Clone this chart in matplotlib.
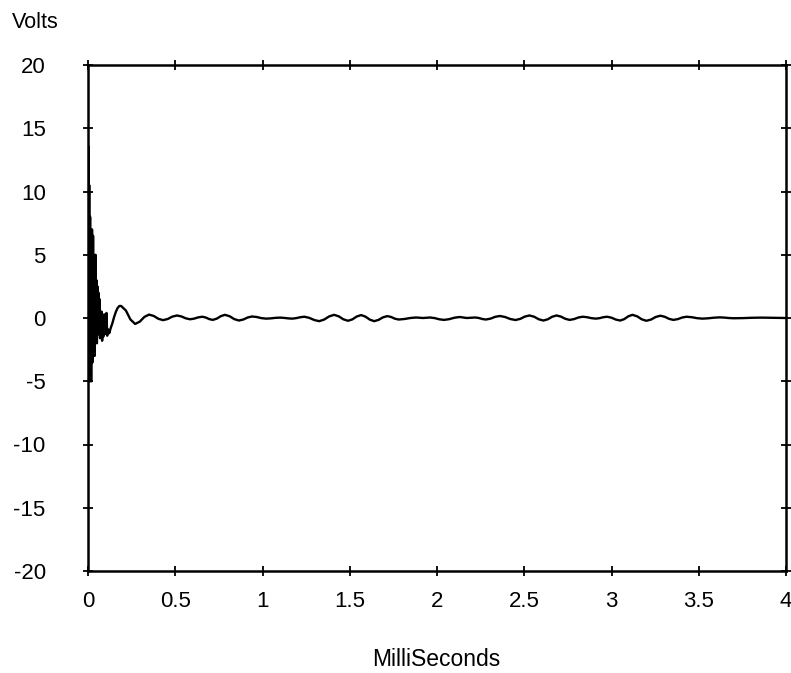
import matplotlib
matplotlib.use("Agg")
import matplotlib.pyplot as plt

# Time (ms) and voltage (V)
time_ms = [
    # initial transient
    0.000, 0.002, 0.004, 0.007, 0.009, 0.012, 0.014, 0.020, 0.023, 0.026,
    0.029, 0.032, 0.035, 0.038, 0.041, 0.043, 0.045, 0.048, 0.051, 0.054,
    0.057, 0.060, 0.063, 0.066, 0.069, 0.072, 0.075, 0.078, 0.081, 0.084,
    0.087, 0.090, 0.094, 0.098, 0.102, 0.106, 0.110, 0.115, 0.122, 0.130,
    0.140, 0.150, 0.160, 0.170, 0.180, 0.190,
    # ringing
    0.217, 0.243, 0.270, 0.297, 0.323, 0.350, 0.377, 0.403, 0.430, 0.457,
    0.483, 0.510, 0.535, 0.560, 0.585, 0.608, 0.632, 0.655, 0.675, 0.695,
    0.715, 0.738, 0.762, 0.785, 0.812, 0.838, 0.865, 0.890, 0.915, 0.940,
    0.967, 0.993, 1.020, 1.047, 1.073, 1.100, 1.123, 1.147, 1.170, 1.193,
    1.217, 1.240, 1.268, 1.297, 1.325, 1.353, 1.382, 1.410, 1.437, 1.463,
    1.490, 1.515, 1.540, 1.565, 1.590, 1.615, 1.640, 1.665, 1.690, 1.715,
    1.737, 1.758, 1.780, 1.813, 1.847, 1.880, 1.920, 1.960, 1.987, 2.013,
    2.040, 2.070, 2.100, 2.130, 2.170, 2.220, 2.240, 2.260, 2.280, 2.307,
    2.333, 2.360, 2.390, 2.420, 2.450, 2.477, 2.503, 2.530, 2.557, 2.583,
    2.610, 2.635, 2.660, 2.685, 2.710, 2.735, 2.760, 2.785, 2.810, 2.835,
    2.860, 2.885, 2.910, 2.932, 2.953, 2.975, 3.000, 3.025, 3.050, 3.073,
    3.097, 3.120, 3.147, 3.173, 3.200, 3.227, 3.253, 3.280, 3.305, 3.330,
    3.355, 3.380, 3.405, 3.430, 3.460, 3.490, 3.520, 3.553, 3.587, 3.620,
    3.647, 3.673, 3.700, 3.753, 3.807, 3.860, 3.907, 3.953, 4.000,
]
volts = [
    # initial transient
    0.0, 13.6, -5.0, 10.5, -5.0, 8.0, -5.0, -5.0, 7.0, -3.5,
    6.5, -2.0, 4.5, -3.0, 3.0, 5.0, -1.5, 3.0, -2.0, 2.5,
    -0.8, 2.0, -1.3, 1.5, -1.6, 0.5, -1.0, 0.5, -1.8, 0.3,
    -1.5, -0.6, -1.3, 0.3, -1.2, 0.4, -1.4, -0.9, -1.2, -0.8,
    -0.4, 0.1, 0.5, 0.8, 0.95, 0.95,
    # ringing
    0.595, -0.115, -0.47, -0.285, 0.085, 0.27, 0.16, -0.06, -0.17, -0.078,
    0.108, 0.20, 0.125, -0.025, -0.10, -0.05, 0.05, 0.10, 0.038, -0.088,
    -0.15, -0.05, 0.15, 0.25, 0.138, -0.088, -0.20, -0.12, 0.04, 0.12,
    0.078, -0.008, -0.05, -0.03, 0.01, 0.03, 0.01, -0.03, -0.05, -0.012,
    0.062, 0.10, 0.012, -0.162, -0.25, -0.125, 0.125, 0.25, 0.132, -0.102,
    -0.22, -0.108, 0.118, 0.23, 0.11, -0.13, -0.25, -0.15, 0.05, 0.15,
    0.082, -0.052, -0.12, -0.08, 0.0, 0.04, 0.0, 0.04, -0.008, -0.102,
    -0.15, -0.092, 0.022, 0.08, 0.0, 0.04, 0.0, -0.08, -0.12, -0.05,
    0.09, 0.16, 0.08, -0.08, -0.16, -0.07, 0.11, 0.20, 0.10, -0.10,
    -0.20, -0.10, 0.10, 0.20, 0.112, -0.062, -0.15, -0.088, 0.038, 0.10,
    0.062, -0.012, -0.05, -0.012, 0.062, 0.10, 0.025, -0.125, -0.20, -0.088,
    0.138, 0.25, 0.132, -0.102, -0.22, -0.12, 0.08, 0.18, 0.098, -0.068,
    -0.15, -0.088, 0.038, 0.10, 0.062, -0.012, -0.05, -0.025, 0.025, 0.05,
    0.032, -0.002, -0.02, -0.008, 0.018, 0.03, 0.022, 0.008, 0.0,
]

x_ticks = [0, 0.5, 1, 1.5, 2, 2.5, 3, 3.5, 4]
x_labels = ["0", "0.5", "1", "1.5", "2", "2.5", "3", "3.5", "4"]
y_ticks = [20, 15, 10, 5, 0, -5, -10, -15, -20]
y_labels = ["20", "15", "10", "5", "0", "-5", "-10", "-15", "-20"]

plt.rcParams['font.family'] = ['Liberation Sans', 'DejaVu Sans']

fig = plt.figure(figsize=(7.91, 6.73), dpi=100)
ax = fig.add_axes([88 / 791, 1 - 571 / 673, (786 - 88) / 791, (571 - 65) / 673])

ax.plot(time_ms, volts, color='black', lw=1.7, solid_joinstyle='round')

ax.set_xlim(0, 4)
ax.set_ylim(-20, 20)
ax.set_xticks(x_ticks)
ax.set_xticklabels(x_labels)
ax.set_yticks(y_ticks)
ax.set_yticklabels(y_labels)

for s in ax.spines.values():
    s.set_linewidth(1.8)

ax.tick_params(axis='both', direction='inout', length=7, width=1.3,
               labelsize=16, top=True, right=True, colors='black')
ax.tick_params(axis='x', pad=11)
ax.tick_params(axis='y', pad=27)

fig.text(12 / 791, 1 - 22 / 673, "Volts", fontsize=15.5, ha='left', va='center')
fig.text(436 / 791, 1 - 660 / 673, "MilliSeconds", fontsize=16.5, ha='center', va='center')

fig.savefig("out.png", dpi=100)
